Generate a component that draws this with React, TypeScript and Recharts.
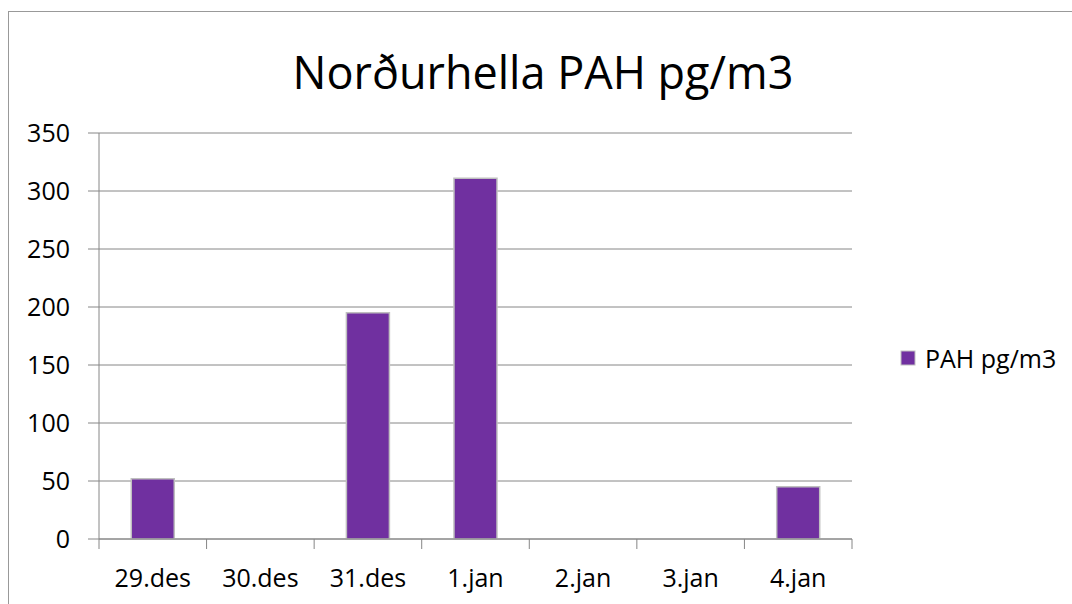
import React from 'react';
import { BarChart, Bar, XAxis, YAxis, CartesianGrid, Legend } from 'recharts';

const categories = ['29.des', '30.des', '31.des', '1.jan', '2.jan', '3.jan', '4.jan'];
const pahValues = [52, 0, 195, 311, 0, 0, 45];
const yTicks = [0, 50, 100, 150, 200, 250, 300, 350];
const seriesName = 'PAH pg/m3';
const title = 'Norðurhella PAH pg/m3';

const data = categories.map((day, i) => ({ day, pah: pahValues[i] }));

const FONT = '"Open Sans", sans-serif';
const GRID = '#868686';
const PURPLE = '#7030A0';

const CHART_W = 1063;
const CHART_H = 592;
const PLOT_LEFT = 90;
const PLOT_RIGHT = 843;
const BAND = (PLOT_RIGHT - PLOT_LEFT) / categories.length;

const XTick = (props: any) => {
  const { x, y, payload, index } = props;
  const left = x - BAND / 2;
  return (
    <g>
      <line x1={left} y1={y} x2={left} y2={y + 10} stroke={GRID} strokeWidth={1} />
      {index === categories.length - 1 && (
        <line x1={x + BAND / 2} y1={y} x2={x + BAND / 2} y2={y + 10} stroke={GRID} strokeWidth={1} />
      )}
      <text x={x} y={y + 48} textAnchor="middle" fontFamily={FONT} fontSize={25} fill="#000">
        {payload.value}
      </text>
    </g>
  );
};

const LegendBox = (props: any) => {
  const items = props.payload || [];
  return (
    <div>
      {items.map((it: any) => (
        <div
          key={it.value}
          style={{
            display: 'flex',
            alignItems: 'center',
            height: 30,
            whiteSpace: 'nowrap',
            fontFamily: FONT,
            fontSize: 25,
            color: '#000',
          }}
        >
          <svg width={16} height={16} style={{ marginRight: 9, flexShrink: 0 }}>
            <rect x={1} y={1} width={14} height={14} fill={PURPLE} stroke="#bfbfbf" strokeWidth={1} />
          </svg>
          <span>{it.value}</span>
        </div>
      ))}
    </div>
  );
};

export default function App() {
  return (
    <div
      style={{
        position: 'absolute',
        left: 8,
        top: 11,
        width: 1063,
        height: 592,
        borderTop: '1px solid #999',
        borderLeft: '1px solid #999',
        background: '#fff',
        overflow: 'hidden',
      }}
    >
      <div
        style={{
          position: 'absolute',
          left: 234,
          top: 37,
          width: 600,
          textAlign: 'center',
          fontFamily: FONT,
          fontSize: 45,
          lineHeight: '45px',
          color: '#000',
          whiteSpace: 'nowrap',
        }}
      >
        {title}
      </div>
      <BarChart
        width={CHART_W}
        height={CHART_H}
        data={data}
        margin={{ top: 121, right: 20, bottom: 0, left: 0 }}
        barCategoryGap="30%"
      >
        <CartesianGrid vertical={false} stroke={GRID} strokeWidth={1} />
        <XAxis
          dataKey="day"
          height={65}
          interval={0}
          axisLine={{ stroke: GRID }}
          tickLine={false}
          tickSize={0}
          tickMargin={0}
          tick={<XTick />}
        />
        <YAxis
          width={90}
          domain={[0, 350]}
          ticks={yTicks}
          interval={0}
          axisLine={{ stroke: GRID }}
          tickLine={{ stroke: GRID }}
          tickSize={11}
          tickMargin={18}
          tick={{ fontFamily: FONT, fontSize: 25, fill: '#000' }}
        />
        <Legend
          layout="vertical"
          align="right"
          verticalAlign="middle"
          content={<LegendBox />}
          wrapperStyle={{ width: 200, boxSizing: 'border-box', paddingLeft: 48, top: 331 }}
        />
        <Bar
          dataKey="pah"
          name={seriesName}
          fill={PURPLE}
          stroke="#bfbfbf"
          strokeWidth={1.5}
          isAnimationActive={false}
        />
      </BarChart>
    </div>
  );
}
